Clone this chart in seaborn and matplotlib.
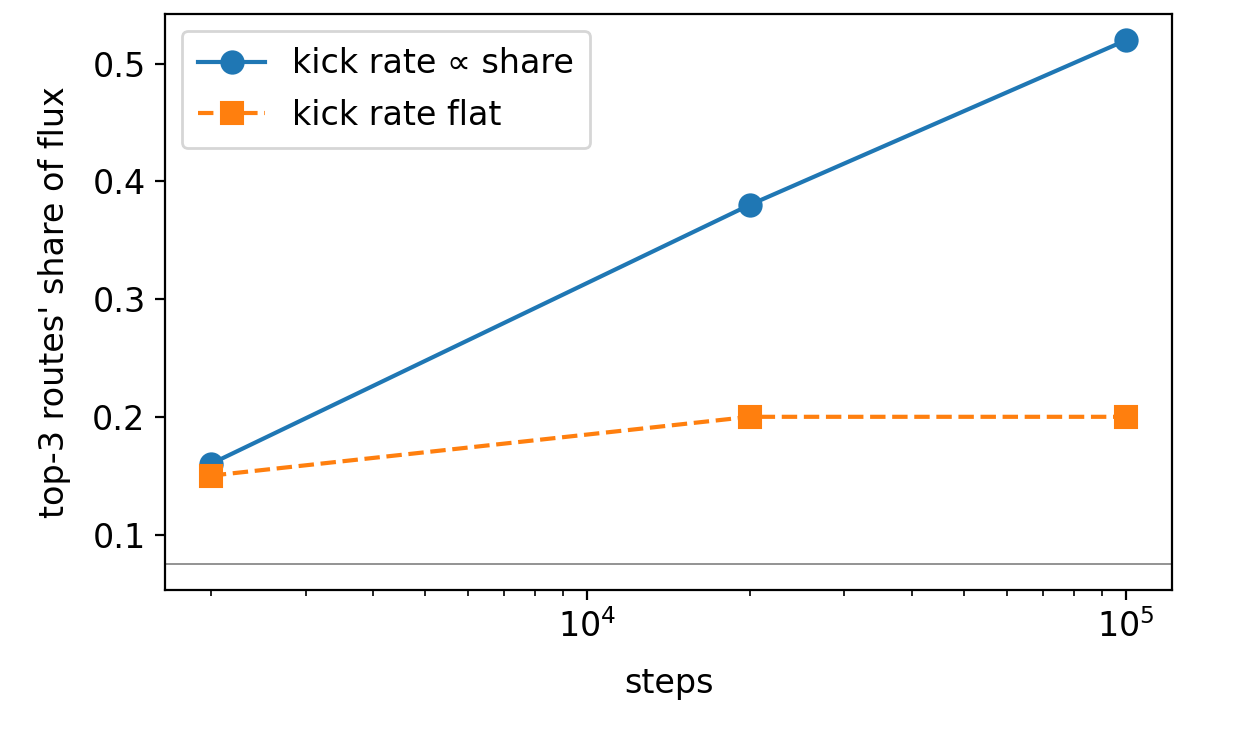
import numpy as np
import pandas as pd
import matplotlib
matplotlib.use('Agg')
import matplotlib.pyplot as plt
import seaborn as sns

plt.rcParams.update({'font.size': 12})

# data
steps = [2000, 20000, 100000]
share_prop = [0.16, 0.38, 0.52]
share_flat = [0.15, 0.20, 0.20]
baseline = 0.075  # top-3 of 40 routes, uniform

fig = plt.figure(figsize=(6.27, 3.67), dpi=200)
ax = fig.add_axes([0.1316, 0.196, 0.8030, 0.785])

sns.lineplot(x=steps, y=share_prop, ax=ax, marker='o', markersize=8,
             color='C0', markeredgecolor='C0', label='kick rate \u221d share')
sns.lineplot(x=steps, y=share_flat, ax=ax, marker='s', markersize=8,
             color='C1', markeredgecolor='C1', linestyle='--', label='kick rate flat')
ax.axhline(baseline, color='gray', lw=0.6)

ax.set_xscale('log')
ax.set_xlabel('steps', labelpad=8)
ax.set_ylabel("top-3 routes' share of flux", labelpad=7.5)
ax.set_yticks([0.1, 0.2, 0.3, 0.4, 0.5])
ax.legend(loc='upper left', borderpad=0.5, labelspacing=0.55)

fig.savefig('out.png', dpi=200)
